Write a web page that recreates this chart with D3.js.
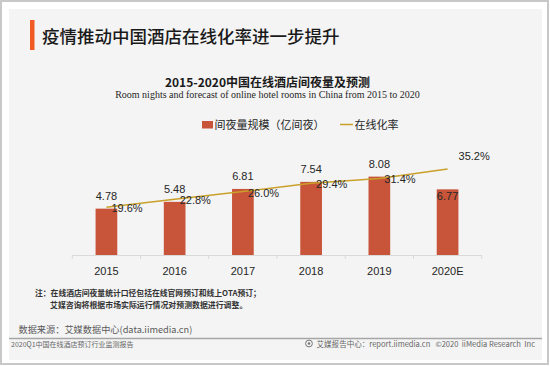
<!DOCTYPE html>
<html>
<head>
<meta charset="utf-8">
<title>2015-2020中国在线酒店间夜量及预测</title>
<style>
body { margin: 0; background: #fff; }
text { font-family: "Noto Sans CJK SC", "Noto Sans", sans-serif; }
.num { font-family: "Liberation Sans", Arial, sans-serif; fill: #262626; font-size: 11px; }
</style>
</head>
<body>
<script src="https://cdn.jsdelivr.net/npm/d3@7/dist/d3.min.js"></script>
<script>

// data
var years = ["2015", "2016", "2017", "2018", "2019", "2020E"];
var roomNights = [4.78, 5.48, 6.81, 7.54, 8.08, 6.77];   // 亿间夜
var onlineRate = [19.6, 22.8, 26.0, 29.4, 31.4, 35.2];   // %

var width = 550,
    height = 366;

var svg = d3.select("body").append("svg")
    .attr("width", width)
    .attr("height", height);

// frame + grey panel
svg.append("rect")
    .attr("x", 1).attr("y", 1)
    .attr("width", 547).attr("height", 363)
    .attr("fill", "#fff")
    .attr("stroke", "#c8c8c8")
    .attr("stroke-width", 2);

svg.append("rect")
    .attr("x", 9).attr("y", 9)
    .attr("width", 533).attr("height", 351)
    .attr("fill", "#f4f4f4");

// page heading
svg.append("rect")
    .attr("x", 30).attr("y", 20)
    .attr("width", 4.5).attr("height", 30)
    .attr("fill", "#f15a22");

svg.append("text")
    .attr("x", 42).attr("y", 42.5)
    .attr("font-size", "17.5px")
    .attr("font-weight", 500)
    .attr("fill", "#1a1a1a")
    .text("疫情推动中国酒店在线化率进一步提升");

// chart titles
svg.append("text")
    .attr("x", 267.5).attr("y", 87)
    .attr("text-anchor", "middle")
    .attr("font-size", "12px")
    .attr("font-weight", "bold")
    .attr("fill", "#1a1a1a")
    .text("2015-2020中国在线酒店间夜量及预测");

svg.append("text")
    .attr("x", 267.5).attr("y", 97.5)
    .attr("text-anchor", "middle")
    .attr("font-size", "10px")
    .attr("fill", "#262626")
    .style("font-family", "'Liberation Serif', serif")
    .text("Room nights and forecast of online hotel rooms in China from 2015 to 2020");

// legend
var legend = svg.append("g");
legend.append("rect")
    .attr("x", 202).attr("y", 121)
    .attr("width", 11).attr("height", 7.5)
    .attr("fill", "#c8553a");
legend.append("text")
    .attr("x", 214.5).attr("y", 129)
    .attr("font-size", "11px")
    .attr("fill", "#262626")
    .text("间夜量规模（亿间夜）");
legend.append("line")
    .attr("x1", 340).attr("x2", 353)
    .attr("y1", 124.5).attr("y2", 124.5)
    .attr("stroke", "#c9a02a")
    .attr("stroke-width", 1.5);
legend.append("text")
    .attr("x", 354.5).attr("y", 129)
    .attr("font-size", "11px")
    .attr("fill", "#262626")
    .text("在线化率");

// scales
var x = d3.scaleBand()
    .domain(years)
    .range([72.3, 481.7])
    .paddingInner(0.682)
    .paddingOuter(0.341);

var baseY = 255;

var yBar = d3.scaleLinear()
    .domain([0, 10])
    .range([baseY, baseY - 97]);

var yRate = d3.scaleLinear()
    .domain([0, 40])
    .range([baseY, baseY - 97.6]);

function cx(d) { return x(d) + x.bandwidth() / 2; }

// bars
svg.append("g").selectAll("rect")
    .data(years)
    .enter().append("rect")
    .attr("x", function(d) { return x(d); })
    .attr("y", function(d, i) { return yBar(roomNights[i]); })
    .attr("width", x.bandwidth())
    .attr("height", function(d, i) { return baseY - yBar(roomNights[i]); })
    .attr("fill", "#c8553a");

// x axis
var step = x.step();
var axis = svg.append("g");
axis.append("line")
    .attr("x1", 72.3).attr("x2", 481.7)
    .attr("y1", baseY + 0.5).attr("y2", baseY + 0.5)
    .attr("stroke", "#d9d9d9");
axis.selectAll(".tk")
    .data(d3.range(years.length + 1))
    .enter().append("line")
    .attr("class", "tk")
    .attr("x1", function(i) { return 72.3 + i * step; })
    .attr("x2", function(i) { return 72.3 + i * step; })
    .attr("y1", baseY).attr("y2", baseY + 4)
    .attr("stroke", "#d9d9d9");
axis.selectAll(".yr")
    .data(years)
    .enter().append("text")
    .attr("class", "num")
    .attr("x", cx)
    .attr("y", 275)
    .attr("text-anchor", "middle")
    .text(function(d) { return d; });

// online rate line
var line = d3.line()
    .x(function(d) { return cx(d); })
    .y(function(d, i) { return yRate(onlineRate[i]); });

svg.append("path")
    .datum(years)
    .attr("d", line)
    .attr("fill", "none")
    .attr("stroke", "#c9a02a")
    .attr("stroke-width", 1.5);

// bar labels (last one sits inside the bar)
var last = years.length - 1;
svg.append("g").selectAll("text")
    .data(years)
    .enter().append("text")
    .attr("class", "num")
    .attr("x", cx)
    .attr("y", function(d, i) {
        var top = yBar(roomNights[i]);
        return i == last ? top + 10.5 : top - 9;
    })
    .attr("text-anchor", "middle")
    .text(function(d, i) { return roomNights[i].toFixed(2); });

// rate labels
svg.append("g").selectAll("text")
    .data(years)
    .enter().append("text")
    .attr("class", "num")
    .attr("x", function(d, i) { return cx(d) + (i == last ? 11 : 5); })
    .attr("y", function(d, i) {
        var py = yRate(onlineRate[i]);
        return i == last ? py - 9 : py + 5;
    })
    .text(function(d, i) { return onlineRate[i].toFixed(1) + "%"; });

// notes
svg.append("text")
    .attr("x", 35).attr("y", 296)
    .attr("font-size", "7.8px")
    .attr("font-weight", "bold")
    .attr("fill", "#333")
    .text("注：在线酒店间夜量统计口径包括在线官网预订和线上OTA预订；");
svg.append("text")
    .attr("x", 50).attr("y", 308)
    .attr("font-size", "7.9px")
    .attr("font-weight", "bold")
    .attr("fill", "#333")
    .text("艾媒咨询将根据市场实际运行情况对预测数据进行调整。");

svg.append("text")
    .attr("x", 18.5).attr("y", 333)
    .attr("font-size", "9.2px")
    .attr("fill", "#595959")
    .text("数据来源：艾媒数据中心(data.iimedia.cn)");

// footer
svg.append("line")
    .attr("x1", 9).attr("x2", 542)
    .attr("y1", 338.5).attr("y2", 338.5)
    .attr("stroke", "#a6a6a6")
    .attr("stroke-width", 1.5);

svg.append("text")
    .attr("x", 11).attr("y", 346.5)
    .attr("font-size", "7px")
    .attr("fill", "#666")
    .text("2020Q1中国在线酒店预订行业监测报告");

svg.append("circle")
    .attr("cx", 309).attr("cy", 343.5)
    .attr("r", 3.4)
    .attr("fill", "none")
    .attr("stroke", "#777")
    .attr("stroke-width", 1);
svg.append("circle")
    .attr("cx", 309).attr("cy", 343.5)
    .attr("r", 1.3)
    .attr("fill", "#777");

svg.append("text")
    .attr("x", 535).attr("y", 346.5)
    .attr("text-anchor", "end")
    .attr("font-size", "7.55px")
    .attr("fill", "#666")
    .attr("xml:space", "preserve")
    .text("艾媒报告中心：report.iimedia.cn   ©2020  iiMedia Research  Inc");

</script>
</body>
</html>
